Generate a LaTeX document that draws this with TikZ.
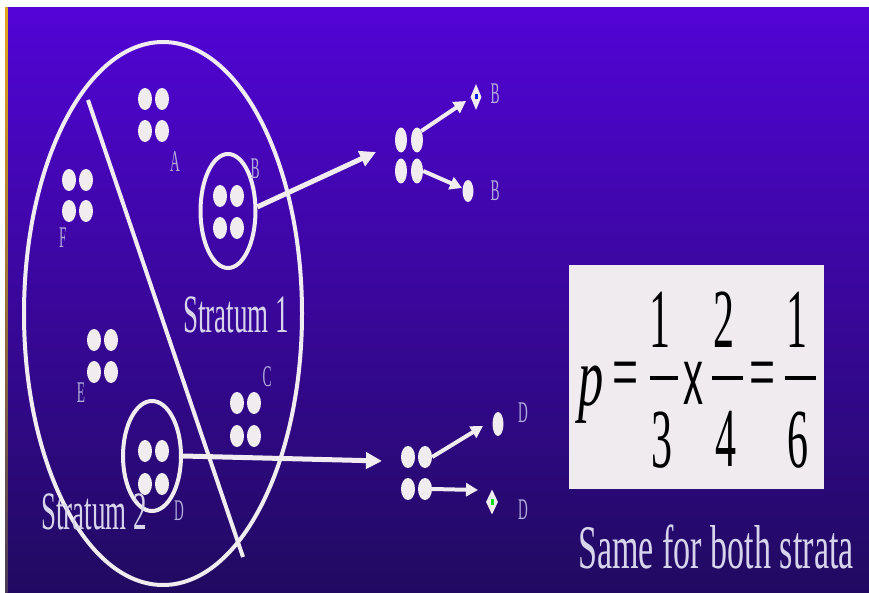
\documentclass[tikz,border=0pt]{standalone}
\usepackage{graphicx}
\usepackage{fontspec}
\setmainfont{Liberation Serif}
\setsansfont{Liberation Sans}
\usetikzlibrary{arrows.meta,shapes.geometric}
\definecolor{bgtop}{HTML}{5204D6}
\definecolor{bgbot}{HTML}{200A60}
\definecolor{chalk}{HTML}{F0ECF0}
\definecolor{lbl}{HTML}{B4ACDC}
\definecolor{txtc}{HTML}{D8D4EC}
\definecolor{boxc}{HTML}{EFEBEF}
\definecolor{stripetop}{HTML}{E4A41C}
\definecolor{stripebot}{HTML}{4A3A5A}
\definecolor{dotblue}{HTML}{0A1AF0}
\definecolor{dotgreen}{HTML}{10E020}
\newcommand\squeeze[2]{\scalebox{#1}[1]{#2}}
\begin{document}
\begin{tikzpicture}[x=1pt,y=-1pt,
  ball/.style={ellipse, fill=chalk, inner sep=0pt, minimum width=14pt, minimum height=22pt},
  tallball/.style={ellipse, fill=chalk, inner sep=0pt, minimum width=12pt, minimum height=25pt},
  endball/.style={ellipse, fill=chalk, inner sep=0pt, minimum width=11pt, minimum height=22pt},
  gem/.style={diamond, fill=chalk, inner sep=0pt, minimum width=11pt, minimum height=26pt},
  outline/.style={draw=chalk, line width=4pt},
  ring/.style={ellipse, draw=chalk, line width=4pt, inner sep=0pt},
  bigarrow/.style={draw=chalk, line width=5pt, -{Triangle[length=16pt,width=16pt]}},
  smallarrow/.style={draw=chalk, line width=4pt, -{Triangle[length=12pt,width=13pt]}},
  tag/.style={text=lbl, inner sep=0pt, font=\fontsize{30}{30}\selectfont},
  strat/.style={text=txtc, inner sep=0pt, font=\fontsize{54}{54}\selectfont},
  fig/.style={text=black, inner sep=0pt, font=\fontsize{84}{84}\selectfont},
  fbar/.style={draw=black, line width=4pt}
]
\useasboundingbox (0,0) rectangle (869,593);
\fill[white] (0,0) rectangle (869,593);
\shade[top color=bgtop, bottom color=bgbot] (7,8) rectangle (869,593);
\shade[top color=stripetop, bottom color=stripebot] (5,8) rectangle (7.5,593);

% population ellipse and stratum divider
\draw[outline] (163,313.5) ellipse [x radius=139pt, y radius=271.5pt];
\draw[outline] (88,100) -- (243,557);

% group A
\node[ball] (a1) at (145,99) {};
\node[ball] (a2) at (162,99) {};
\node[ball] (a3) at (145,131) {};
\node[ball] (a4) at (162,131) {};
\node[tag] (tA) at (175,162) {\squeeze{0.45}{A}};

% group B (sampled, stratum 1)
\node[ring, minimum width=55pt, minimum height=114pt] (cB) at (228,211) {};
\node[ball] (b1) at (220,196) {};
\node[ball] (b2) at (237,196) {};
\node[ball] (b3) at (220,228) {};
\node[ball] (b4) at (237,228) {};
\node[tag] (tB) at (255,169) {\squeeze{0.45}{B}};

% group F
\node[ball] (f1) at (69,180) {};
\node[ball] (f2) at (86,180) {};
\node[ball] (f3) at (69,211) {};
\node[ball] (f4) at (86,211) {};
\node[tag] (tF) at (63,238) {\squeeze{0.45}{F}};

% group E
\node[ball] (e1) at (94,340) {};
\node[ball] (e2) at (111,340) {};
\node[ball] (e3) at (94,372) {};
\node[ball] (e4) at (111,372) {};
\node[tag] (tE) at (81,393) {\squeeze{0.45}{E}};

% group C
\node[ball] (c1) at (237,403) {};
\node[ball] (c2) at (254,403) {};
\node[ball] (c3) at (237,436) {};
\node[ball] (c4) at (254,436) {};
\node[tag] (tC) at (267,377) {\squeeze{0.45}{C}};

% group D (sampled, stratum 2)
\node[ring, minimum width=58pt, minimum height=110pt] (cD) at (152,456) {};
\node[ball] (d1) at (145,451) {};
\node[ball] (d2) at (162,451) {};
\node[ball] (d3) at (145,484) {};
\node[ball] (d4) at (162,484) {};
\node[tag] (tD) at (179,511) {\squeeze{0.45}{D}};

% stratum labels
\node[strat, anchor=base] (s1) at (236,332) {\squeeze{0.5}{Stratum 1}};
\node[strat, anchor=base] (s2) at (94,529) {\squeeze{0.5}{Stratum 2}};

% stage-two samples, stratum 1
\coordinate (tipB) at (376,152);
\draw[bigarrow] (cB.8) -- (tipB);
\node[tallball] (r1a) at (401,140) {};
\node[tallball] (r1b) at (417,140) {};
\node[tallball] (r2a) at (401,171) {};
\node[tallball] (r2b) at (417,171) {};
\node[gem] (g1) at (476,97) {};
\fill[dotblue] (g1.center) ++(-1.5,-2.5) rectangle ++(3,5);
\node[endball] (k1) at (468,191) {};
\coordinate (t1) at (466,101);
\coordinate (t2) at (462,188);
\draw[smallarrow] (r1b.north east) -- (t1);
\draw[smallarrow] (r2b.east) -- (t2);
\node[tag] (u1) at (495,94) {\squeeze{0.45}{B}};
\node[tag] (u2) at (495,191) {\squeeze{0.45}{B}};

% stage-two samples, stratum 2
\coordinate (tipD) at (382,461);
\draw[bigarrow] (cD.east) -- (tipD);
\node[ball] (r3a) at (408,457) {};
\node[ball] (r3b) at (425,457) {};
\node[ball] (r4a) at (408,489) {};
\node[ball] (r4b) at (425,489) {};
\node[endball, minimum height=24pt] (k2) at (498,424) {};
\node[gem, minimum width=12pt, minimum height=25pt] (g2) at (492,502) {};
\fill[dotgreen] (g2.center) ++(-1.5,-3) rectangle ++(3,6);
\coordinate (t3) at (483,426);
\coordinate (t4) at (478,490);
\draw[smallarrow] (r3b.east) -- (t3);
\draw[smallarrow] (r4b.east) -- (t4);
\node[tag] (u3) at (523,413) {\squeeze{0.45}{D}};
\node[tag] (u4) at (523,510) {\squeeze{0.45}{D}};

% probability box
\fill[boxc] (569,265) rectangle (824,489);
\node[fig] (pp) at (591,395) {\squeeze{0.6}{\itshape p}};
\node[fig] (eq1) at (626,381) {\squeeze{0.55}{=}};
\node[fig] (n1) at (660,320) {\squeeze{0.5}{1}};
\draw[fbar] (650,378) -- (678,378);
\node[fig] (m1) at (662,440) {\squeeze{0.5}{3}};
\node[fig, font=\fontsize{80}{80}\sffamily] (xx) at (693,383) {\squeeze{0.5}{x}};
\node[fig] (n2) at (724,320) {\squeeze{0.5}{2}};
\draw[fbar] (712,378) -- (743,378);
\node[fig] (m2) at (726,439) {\squeeze{0.5}{4}};
\node[fig] (eq2) at (763,381) {\squeeze{0.55}{=}};
\node[fig] (n3) at (797,320) {\squeeze{0.5}{1}};
\draw[fbar] (785,378) -- (816,378);
\node[fig] (m3) at (798,440) {\squeeze{0.5}{6}};

\node[text=txtc, inner sep=0pt, anchor=base, font=\fontsize{62}{62}\selectfont] (same) at (716,568) {\squeeze{0.55}{Same for both strata}};
\end{tikzpicture}
\end{document}
